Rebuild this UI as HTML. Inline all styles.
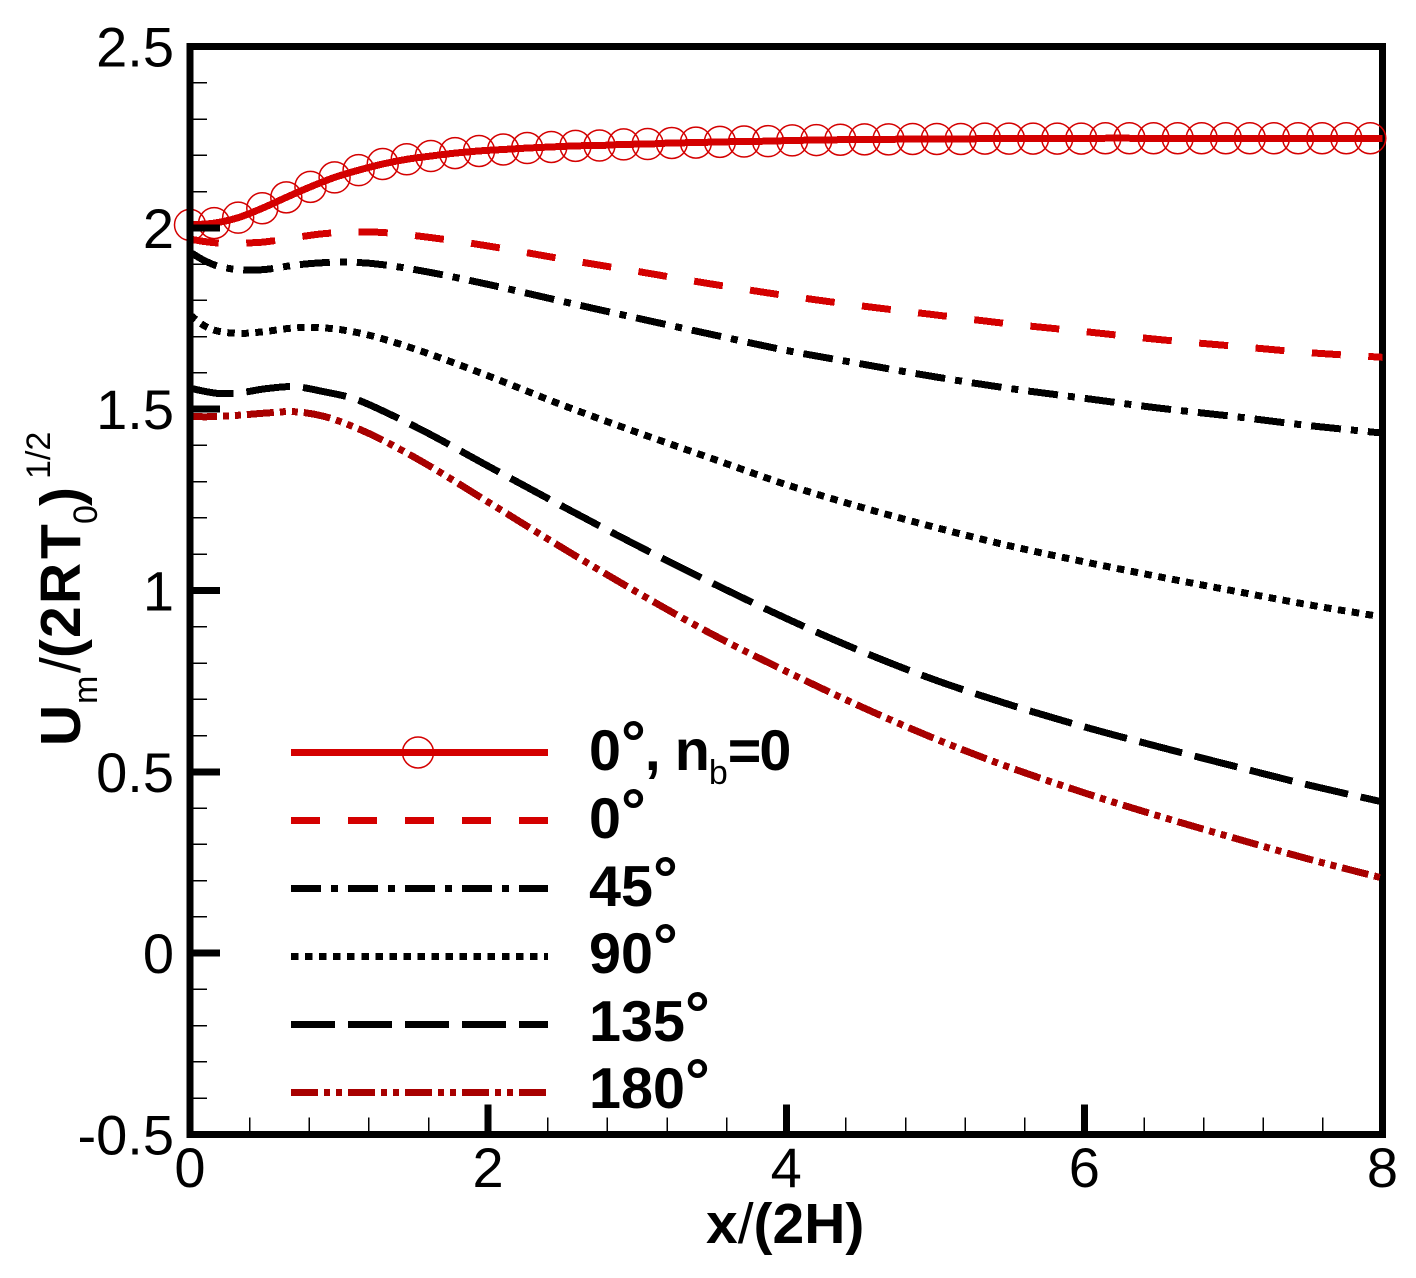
<!DOCTYPE html>
<html>
<head>
<meta charset="utf-8">
<title>Um profile chart</title>
<style>
html,body{margin:0;padding:0;background:#fff;width:1416px;height:1278px;overflow:hidden}
svg{display:block}
text{font-family:"Liberation Sans",Arial,sans-serif;fill:#000}
</style>
</head>
<body>
<svg id="chart" xmlns="http://www.w3.org/2000/svg" width="1416" height="1278" viewBox="0 0 1416 1278">
  <rect x="0" y="0" width="1416" height="1278" fill="#fff"/>
  <rect x="190" y="46.5" width="1192.5" height="1088" fill="none" stroke="#000" stroke-width="7" shape-rendering="crispEdges"/>
  <g id="series-layer"></g>
  <g id="axis-layer"></g>

  <text x="706" y="1243" font-size="57" font-weight="700">x<tspan font-weight="400">/</tspan>(2H)</text>
  <text transform="translate(80,746) rotate(-90)" font-size="57" font-weight="700"><tspan x="0" y="0">U</tspan><tspan x="42" y="17" font-size="34" font-weight="400">m</tspan><tspan x="73" y="0" font-weight="400">/</tspan><tspan x="88" y="0">(</tspan><tspan x="108" y="0">2</tspan><tspan x="142" y="0">R</tspan><tspan x="187" y="0">T</tspan><tspan x="222" y="17" font-size="34" font-weight="400">0</tspan><tspan x="240" y="0">)</tspan><tspan x="267" y="-30" font-size="34" font-weight="400">1/2</tspan></text>

  <g>
    <g>
      <line x1="291" x2="548" y1="752.5" y2="752.5" stroke="#d40000" stroke-width="7" shape-rendering="crispEdges"/>
      <circle cx="418" cy="752.5" r="15.5" fill="none" stroke="#d40000" stroke-width="1.5"/>
      <text x="589" y="770" font-size="57.5" font-weight="700">0<tspan font-size="62" dy="-6">°</tspan><tspan dx="-1" dy="6">, </tspan><tspan dx="-2">n</tspan><tspan font-size="34" font-weight="400" dx="-1" dy="14">b</tspan><tspan dy="-14">=</tspan><tspan dx="-2">0</tspan></text>
    </g>
    <g>
      <line x1="291" x2="548" y1="820.5" y2="820.5" stroke="#d40000" stroke-width="7" stroke-dasharray="29 28" shape-rendering="crispEdges"/>
      <text x="589" y="838" font-size="57.5" font-weight="700">0<tspan font-size="62" dy="-6">°</tspan></text>
    </g>
    <g>
      <line x1="291" x2="548" y1="888.5" y2="888.5" stroke="#000" stroke-width="7" stroke-dasharray="30 10 7 10" shape-rendering="crispEdges"/>
      <text x="589" y="906" font-size="57.5" font-weight="700">45<tspan font-size="62" dy="-6">°</tspan></text>
    </g>
    <g>
      <line x1="291" x2="548" y1="956.5" y2="956.5" stroke="#000" stroke-width="7" stroke-dasharray="7.5 6.55" shape-rendering="crispEdges"/>
      <text x="589" y="973" font-size="57.5" font-weight="700">90<tspan font-size="62" dy="-6">°</tspan></text>
    </g>
    <g>
      <line x1="291" x2="548" y1="1024.5" y2="1024.5" stroke="#000" stroke-width="7" stroke-dasharray="44 13" shape-rendering="crispEdges"/>
      <text x="589" y="1041" font-size="57.5" font-weight="700">135<tspan font-size="62" dy="-6">°</tspan></text>
    </g>
    <g>
      <line x1="291" x2="546" y1="1092.5" y2="1092.5" stroke="#a80000" stroke-width="7" stroke-dasharray="27 6 6 6 6 6" shape-rendering="crispEdges"/>
      <text x="589" y="1108" font-size="57.5" font-weight="700">180<tspan font-size="62" dy="-6">°</tspan></text>
    </g>
  </g>
</svg>
<script>
var xTickLabels = ["0","2","4","6","8"];
var yTickLabels = ["-0.5","0","0.5","1","1.5","2","2.5"];
var xTickValues = [0,2,4,6,8];
var yTickValues = [-0.5,0,0.5,1,1.5,2,2.5];

var nb0X = [0,0.162,0.323,0.485,0.646,0.808,0.970,1.131,1.293,1.454,1.616,1.778,1.939,2.101,2.262,2.424,2.586,2.747,2.909,3.070,3.232,3.394,3.555,3.717,3.878,4.040,4.202,4.363,4.525,4.686,4.848,5.010,5.171,5.333,5.494,5.656,5.818,5.979,6.141,6.302,6.464,6.626,6.787,6.949,7.110,7.272,7.434,7.595,7.757,7.918,8];
var seriesNb0 = [2.008,2.013,2.028,2.054,2.084,2.113,2.139,2.159,2.176,2.189,2.198,2.206,2.212,2.216,2.220,2.223,2.226,2.227,2.230,2.231,2.234,2.235,2.237,2.238,2.239,2.241,2.242,2.243,2.244,2.244,2.245,2.245,2.245,2.246,2.246,2.246,2.246,2.246,2.247,2.247,2.247,2.247,2.247,2.247,2.247,2.247,2.247,2.247,2.247,2.247,2.247];

var curveX = [0,0.1,0.2,0.35,0.5,0.7,0.9,1.1,1.3,1.6,2,2.5,3,3.5,4,4.5,5,5.5,6,6.5,7,7.5,8];
var series0 = [1.969,1.962,1.958,1.958,1.961,1.973,1.984,1.988,1.987,1.974,1.950,1.914,1.880,1.845,1.813,1.785,1.760,1.735,1.714,1.692,1.674,1.656,1.643];
var series45 = [1.933,1.909,1.893,1.884,1.885,1.897,1.904,1.905,1.898,1.878,1.844,1.797,1.751,1.706,1.662,1.625,1.589,1.557,1.530,1.503,1.480,1.455,1.434];
var series90 = [1.760,1.729,1.714,1.709,1.714,1.724,1.724,1.713,1.693,1.653,1.592,1.511,1.436,1.364,1.292,1.230,1.174,1.123,1.079,1.038,0.999,0.961,0.927];
var series135 = [1.558,1.549,1.543,1.546,1.556,1.562,1.548,1.529,1.494,1.433,1.343,1.232,1.124,1.021,0.923,0.833,0.753,0.685,0.624,0.569,0.516,0.464,0.417];
var series180 = [1.480,1.479,1.480,1.484,1.489,1.493,1.480,1.451,1.413,1.345,1.244,1.117,0.995,0.880,0.777,0.680,0.591,0.512,0.442,0.378,0.318,0.260,0.207];

var NS = "http://www.w3.org/2000/svg";
var X0 = 190, X1 = 1382.5, Y0 = 1134.5, Y1 = 46.5;
function sx(v){ return X0 + (v - 0) / 8 * (X1 - X0); }
function sy(v){ return Y0 - (v + 0.5) / 3 * (Y0 - Y1); }

function smoothPath(xs, ys){
  var p = xs.map(function(x, i){ return [sx(x), sy(ys[i])]; });
  var d = "M" + p[0][0].toFixed(2) + " " + p[0][1].toFixed(2);
  for (var i = 0; i < p.length - 1; i++) {
    var a = p[Math.max(i - 1, 0)], b = p[i], c = p[i + 1], e = p[Math.min(i + 2, p.length - 1)];
    var h = c[0] - b[0];
    var m1 = (c[1] - a[1]) / ((c[0] - a[0]) || 1);
    var m2 = (e[1] - b[1]) / ((e[0] - b[0]) || 1);
    d += "C" + (b[0] + h / 3).toFixed(2) + " " + (b[1] + m1 * h / 3).toFixed(2) + " " +
         (c[0] - h / 3).toFixed(2) + " " + (c[1] - m2 * h / 3).toFixed(2) + " " +
         c[0].toFixed(2) + " " + c[1].toFixed(2);
  }
  return d;
}

var seriesLayer = document.getElementById("series-layer");
var axisLayer = document.getElementById("axis-layer");

function addCurve(name, xs, ys, color, dash){
  var el = document.createElementNS(NS, "path");
  el.setAttribute("d", smoothPath(xs, ys));
  el.setAttribute("fill", "none");
  el.setAttribute("stroke", color);
  el.setAttribute("stroke-width", "7");
  el.setAttribute("shape-rendering", "crispEdges");
  if (dash) el.setAttribute("stroke-dasharray", dash);
  
  
  seriesLayer.appendChild(el);
}

addCurve("series-180-deg", curveX, series180, "#a80000", "27 6 6 6 6 6");
addCurve("series-135-deg", curveX, series135, "#000", "44 13");
addCurve("series-90-deg", curveX, series90, "#000", "7.5 6.55");
addCurve("series-45-deg", curveX, series45, "#000", "30 10 7 10");
addCurve("series-0-deg", curveX, series0, "#d40000", "29 27.55");
addCurve("series-0-deg-nb0", nb0X, seriesNb0, "#d40000", "");

nb0X.forEach(function(x, i){
  if (i === nb0X.length - 1) return;
  var c = document.createElementNS(NS, "circle");
  c.setAttribute("cx", sx(x));
  c.setAttribute("cy", sy(seriesNb0[i]));
  c.setAttribute("r", "15.5");
  c.setAttribute("fill", "none");
  c.setAttribute("stroke", "#d40000");
  c.setAttribute("stroke-width", "1.5");
  
  
  seriesLayer.appendChild(c);
});

function addLine(name, x1, y1, x2, y2, w){
  var l = document.createElementNS(NS, "line");
  l.setAttribute("x1", x1);
  l.setAttribute("y1", y1);
  l.setAttribute("x2", x2);
  l.setAttribute("y2", y2);
  l.setAttribute("stroke", "#000");
  l.setAttribute("stroke-width", w);
  l.setAttribute("shape-rendering", "crispEdges");
  
  
  axisLayer.appendChild(l);
}

addLine("left-axis-line", X0, Y1 - 3.5, X0, Y0 + 3.5, 7);
addLine("bottom-axis-line", X0, Y0, X1 + 3.5, Y0, 7);

for (var i = 1; i < 20; i++) {
  if (i % 5 === 0) continue;
  addLine("x-minor-tick", sx(i * 0.4), Y0, sx(i * 0.4), Y0 - 17, 1.5);
}
for (var j = 1; j < 30; j++) {
  if (j % 5 === 0) continue;
  addLine("y-minor-tick", X0, sy(-0.5 + j * 0.1), X0 + 17, sy(-0.5 + j * 0.1), 1.5);
}

function addLabel(name, x, y, anchor, str){
  var t = document.createElementNS(NS, "text");
  t.setAttribute("x", x);
  t.setAttribute("y", y);
  t.setAttribute("text-anchor", anchor);
  t.setAttribute("font-size", "56");
  t.textContent = str;
  
  
  axisLayer.appendChild(t);
}

xTickValues.forEach(function(v, i){
  if (v > 0 && v < 8) addLine("x-major-tick", sx(v), Y0, sx(v), Y0 - 30, 7);
  addLabel("x-tick-label", sx(v), 1187, "middle", xTickLabels[i]);
});
yTickValues.forEach(function(v, i){
  if (v > -0.5 && v < 2.5) addLine("y-major-tick", X0, sy(v), X0 + 30, sy(v), 7);
  addLabel("y-tick-label", 174, sy(v) + 20, "end", yTickLabels[i]);
});
</script>
</body>
</html>
